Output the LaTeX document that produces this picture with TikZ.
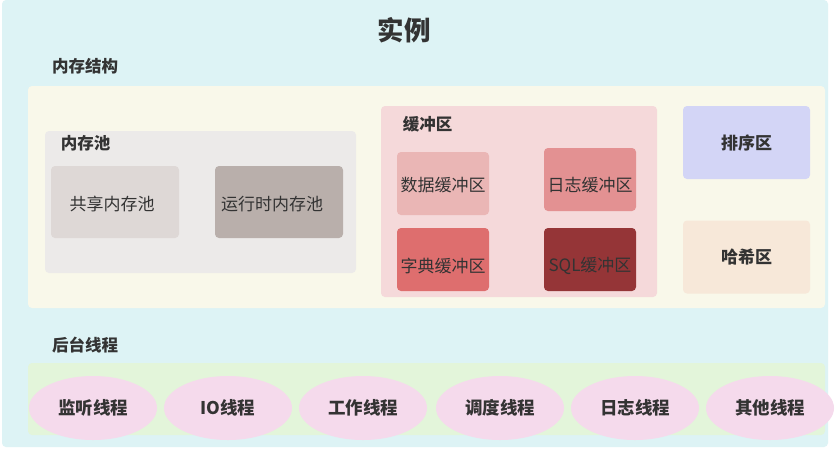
\documentclass[tikz,border=0pt]{standalone}
\usepackage{fontspec}
\setmainfont{Noto Sans CJK SC}
\usetikzlibrary{shapes.geometric}
\definecolor{bgcyan}{HTML}{DDF3F5}
\definecolor{cream}{HTML}{F9F8EA}
\definecolor{poolgray}{HTML}{ECEAE9}
\definecolor{sharegray}{HTML}{DED8D6}
\definecolor{rungray}{HTML}{B9AFAB}
\definecolor{bufpink}{HTML}{F5D9DA}
\definecolor{databuf}{HTML}{EAB6B5}
\definecolor{logbuf}{HTML}{E39192}
\definecolor{dictbuf}{HTML}{DE6E6E}
\definecolor{sqlbuf}{HTML}{953537}
\definecolor{sortc}{HTML}{D3D5F6}
\definecolor{hashc}{HTML}{F7E8D9}
\definecolor{greenc}{HTML}{E3F5DA}
\definecolor{ellc}{HTML}{F5DAEC}
\definecolor{txt}{HTML}{333333}
\begin{document}
\begin{tikzpicture}[x=1pt,y=-1pt,
  region/.style={rounded corners=4pt, inner sep=0pt, outer sep=0pt, draw=none},
  lbl/.style={text=txt, font=\bfseries\fontsize{16.5}{19}\selectfont, inner sep=0pt},
  inner/.style={text=txt, font=\fontsize{17}{20}\selectfont, inner sep=0pt},
  thread/.style={ellipse, fill=ellc, minimum width=128pt, minimum height=64pt, inner sep=0pt, text=txt, font=\bfseries\fontsize{17.5}{20}\selectfont}]
\useasboundingbox (0,0) rectangle (835,451);
\fill[white] (0,0) rectangle (835,451);
\node[region, fill=bgcyan, minimum width=826pt, minimum height=447pt] (bg) at (415,223.5) {};
\node[text=txt, font=\bfseries\fontsize{26.5}{30}\selectfont, inner sep=0pt] (title) at (404,30) {实例};
\node[lbl] (memlbl) at (85,66) {内存结构};
\node[region, fill=cream, minimum width=797pt, minimum height=222pt] (mem) at (426.5,197) {};
% memory pool
\node[region, fill=poolgray, minimum width=311pt, minimum height=142pt] (pool) at (200.5,202) {};
\node[lbl] (poollbl) at (85.5,143) {内存池};
\node[region, fill=sharegray, minimum width=128pt, minimum height=72pt] (share) at (115,202) {};
\node[inner] at (112,204) {共享内存池};
\node[region, fill=rungray, minimum width=128pt, minimum height=72pt] (run) at (279,202) {};
\node[inner] at (272,204) {运行时内存池};
% buffers
\node[region, fill=bufpink, minimum width=276pt, minimum height=191pt] (buf) at (519,201.5) {};
\node[lbl] (buflbl) at (427.5,124) {缓冲区};
\node[region, fill=databuf, minimum width=92pt, minimum height=63pt] (data) at (443,183.5) {};
\node[inner] at (443,185) {数据缓冲区};
\node[region, fill=logbuf, minimum width=92pt, minimum height=63pt] (log) at (590,179.5) {};
\node[inner] at (590,185) {日志缓冲区};
\node[region, fill=dictbuf, minimum width=92pt, minimum height=63pt] (dict) at (443,259.5) {};
\node[inner] at (443,266) {字典缓冲区};
\node[region, fill=sqlbuf, minimum width=92pt, minimum height=63pt] (sql) at (590,259.5) {};
\node[inner] at (590,266) {SQL缓冲区};
% sort / hash
\node[region, fill=sortc, minimum width=127pt, minimum height=73pt, text=txt, font=\bfseries\fontsize{17}{20}\selectfont] (sort) at (746.5,142.5) {排序区};
\node[region, fill=hashc, minimum width=127pt, minimum height=73pt, text=txt, font=\bfseries\fontsize{17}{20}\selectfont] (hash) at (746.5,257) {哈希区};
% background threads
\node[lbl] (thrlbl) at (85,345) {后台线程};
\node[region, fill=greenc, minimum width=797pt, minimum height=72pt] (thr) at (426.5,399) {};
\node[thread] (t1) at (93,408) {监听线程};
\node[thread] (t2) at (228,408) {IO线程};
\node[thread] (t3) at (363,408) {工作线程};
\node[thread] (t4) at (500,408) {调度线程};
\node[thread] (t5) at (635,408) {日志线程};
\node[thread] (t6) at (770,408) {其他线程};
\end{tikzpicture}
\end{document}
